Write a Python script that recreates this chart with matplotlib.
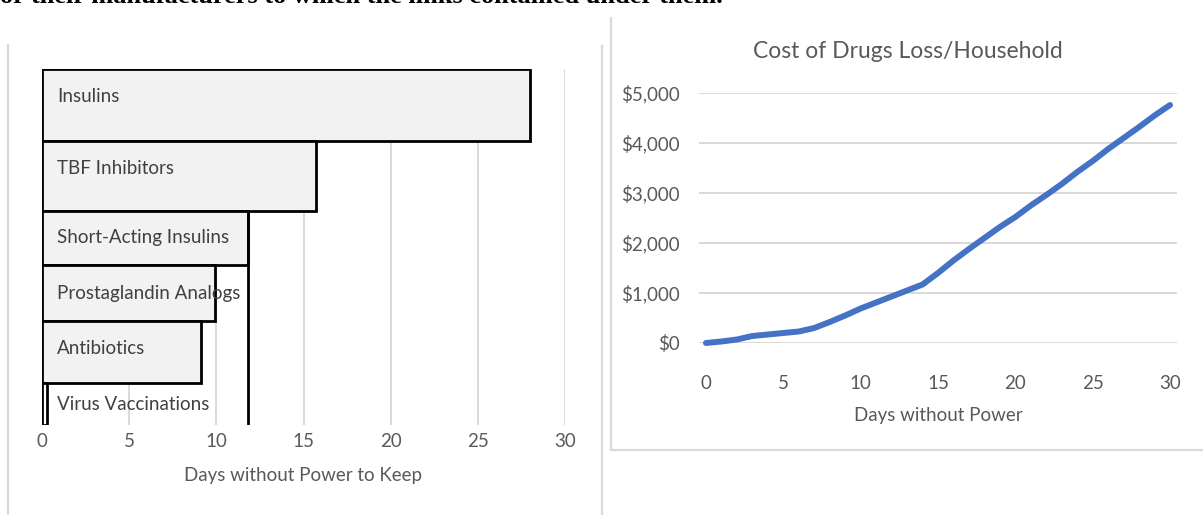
import matplotlib
matplotlib.use("Agg")
import matplotlib.pyplot as plt
from matplotlib.lines import Line2D
import numpy as np

# ---- data ----
drug_classes = ["Insulins", "TBF Inhibitors", "Short-Acting Insulins",
                "Prostaglandin Analogs", "Antibiotics", "Virus Vaccinations"]
days_to_keep = [28.0, 15.7, 11.8, 9.9, 9.1, 0.3]

cost_days = list(range(0, 31))
cost_values = [0, 30, 70, 140, 170, 200, 230, 300, 420, 550, 690, 810, 930,
               1050, 1170, 1400, 1650, 1880, 2100, 2320, 2520, 2750, 2960,
               3180, 3420, 3640, 3880, 4100, 4320, 4550, 4760]

# ---- layout / style ----
W, H = 1203, 515
bar_heights = [72, 70, 54, 56, 62, 42]  # px-like units
TXT = "#595959"
GRID = "#d9d9d9"
FONT = "Lato"

plt.rcParams["font.family"] = [FONT, "DejaVu Sans"]

fig = plt.figure(figsize=(W / 100, H / 100), dpi=100)

def fx(px):
    return px / W

def fy(py):
    return 1 - py / H

# cropped document text at the very top
fig.text(fx(0), fy(3), "or their manufacturers to which the links contained under them.",
         family="Liberation Serif", fontsize=19, fontweight="bold", color="black",
         ha="left", va="baseline")

# panel borders
for (x0, y0, x1, y1) in [(8, 45, 8, 515), (602, 46, 602, 515),
                         (611, 18, 611, 450), (611, 450, 1203, 450)]:
    fig.add_artist(Line2D([fx(x0), fx(x1)], [fy(y0), fy(y1)], color=GRID, lw=1.6))

# ---- left: horizontal bars ----
axL = fig.add_axes([fx(42), fy(425), fx(565) - fx(42), fy(69) - fy(425)])
tops = np.concatenate([[0], np.cumsum(bar_heights)[:-1]])
centers = tops + np.array(bar_heights) / 2
facecols = ["#f2f2f2"] * (len(drug_classes) - 1) + ["white"]
axL.barh(centers, days_to_keep, height=bar_heights, color=facecols,
         edgecolor="black", linewidth=2, zorder=3)
axL.set_ylim(sum(bar_heights), 0)
axL.set_xlim(0, 30)
axL.set_xticks(range(0, 31, 5))
axL.xaxis.grid(True, color=GRID, lw=1.4, zorder=0)
axL.set_axisbelow(True)
axL.set_yticks([])
for s in axL.spines.values():
    s.set_visible(False)
axL.tick_params(axis="x", length=0, labelsize=13.5, labelcolor=TXT, pad=6)
axL.set_xlabel("Days without Power to Keep", fontsize=13.5, color=TXT, labelpad=12)
# extended edge of short-acting bar
i_sa = 2
axL.plot([days_to_keep[i_sa]] * 2, [tops[i_sa], sum(bar_heights)], color="black",
         lw=2, zorder=4)
for i, name in enumerate(drug_classes):
    ty = tops[i] + min(28, bar_heights[i] / 2)
    axL.text(0.85, ty, name, fontsize=13.5, color="#404040", ha="left", va="center",
             zorder=5)

# ---- right: line chart ----
axR = fig.add_axes([fx(699), fy(343), fx(1177) - fx(699), fy(93) - fy(343)])
axR.plot(cost_days, cost_values, color="#4472C4", lw=4.3, solid_capstyle="round",
         zorder=3, clip_on=False)
axR.set_xlim(-0.45, 30.45)
axR.set_ylim(0, 5000)
axR.set_xticks(range(0, 31, 5))
axR.set_yticks(range(0, 5001, 1000))
axR.set_yticklabels([f"${v:,}" for v in range(0, 5001, 1000)])
axR.yaxis.grid(True, color=GRID, lw=1.4, zorder=0)
axR.set_axisbelow(True)
for s in axR.spines.values():
    s.set_visible(False)
axR.tick_params(axis="both", length=0, labelsize=13.5, labelcolor=TXT)
axR.tick_params(axis="x", pad=23)
axR.tick_params(axis="y", pad=14)
axR.set_xlabel("Days without Power", fontsize=13.5, color=TXT, labelpad=11)
fig.text(fx(908), fy(51), "Cost of Drugs Loss/Household", fontsize=16.5, color=TXT,
         ha="center", va="center")

fig.savefig("out.png", dpi=100)
